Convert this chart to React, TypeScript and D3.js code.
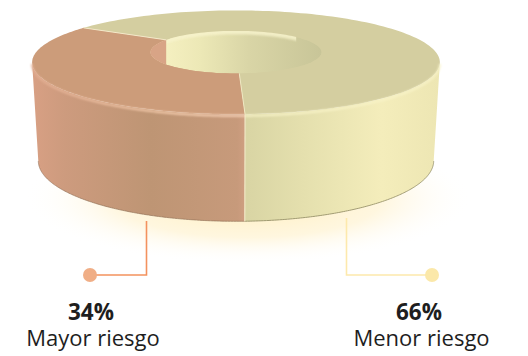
import React from "react";
import * as d3 from "d3";

const categories = ["Mayor riesgo", "Menor riesgo"];
const values = [34, 66];
const percentLabels = ["34%", "66%"];

const W = 528, H = 356;
const HUB_X = 236;
const START = (178 * Math.PI) / 180;
const K = 0.238;
const TOP = { x: HUB_X, y: 50, a: 198, b: 49 };
const BASE = { x: HUB_X, y: 146.5, a: 192, b: 57 };
const HOLE_R = 0.43;

const pie = d3.pie<number>().sort(null).startAngle(START).endAngle(START + 2 * Math.PI);
const slices = pie(values);

type Plane = { x: number; y: number; a: number; b: number };
// a disc in perspective: angle runs clockwise from the far side of the ring
const project = (pl: Plane, r: number, t: number): [number, number] => {
  const u = r * Math.sin(t);
  const v = -r * Math.cos(t);
  const w = 1 - K * v;
  return [pl.x + (pl.a * u) / w, pl.y + (pl.b * v) / w];
};
const line = d3.line<[number, number]>();
const samples = (t0: number, t1: number, n = 120) =>
  d3.range(n + 1).map((i) => t0 + ((t1 - t0) * i) / n);
const arcPts = (pl: Plane, r: number, t0: number, t1: number) =>
  samples(t0, t1).map((t) => project(pl, r, t));
const shift = (pts: [number, number][], dy: number) =>
  pts.map(([x, y]) => [x, y + dy] as [number, number]);

const sectorPath = (t0: number, t1: number) =>
  line([...arcPts(TOP, 1, t0, t1), [TOP.x, TOP.y]]) + "Z";
const wallPath = (t0: number, t1: number) =>
  line([...arcPts(TOP, 1, t0, t1), ...arcPts(BASE, 1, t0, t1).reverse()]) + "Z";

const orange = slices[0];
const yellow = slices[1];
const FRONT_END = START + 2 * Math.PI; // yellow ends at the front cut again
const LEFT_T = (256 * Math.PI) / 180; // silhouette points of the ring
const RIGHT_T = (104 * Math.PI) / 180;

const holeRing = line(arcPts(TOP, HOLE_R, 0, 2 * Math.PI)) + "Z";
const cutBack = project(TOP, HOLE_R, orange.endAngle);
const cutBackOuter = project(TOP, 1, orange.endAngle);
const cutFront = project(TOP, HOLE_R, orange.startAngle);
const cutFrontOuter = project(TOP, 1, orange.startAngle);
const frontBase = project(BASE, 1, orange.startAngle);

const leaderAnchors = [
  { x: 146.5, y0: 221, y1: 275, dot: 90, line: "#F3925E", fill: "#F0AE86" },
  { x: 346.5, y0: 218, y1: 275, dot: 432, line: "#FDE9AC", fill: "#FBE8A9" },
];
const pctX = [91, 419];
const nameX = [93, 421.5];
const pctY = 320;
const nameY = 346;
const FONT = "'Open Sans', sans-serif";

export default function App() {
  return (
    <svg
      width={W}
      height={H}
      viewBox={`0 0 ${W} ${H}`}
      style={{ position: "absolute", left: 0, top: 0, background: "#fff" }}
    >
      <defs>
        <radialGradient id="glow" cx="0.5" cy="0.5" r="0.5">
          <stop offset="0" stopColor="#FFEDB8" stopOpacity={1} />
          <stop offset="0.6" stopColor="#FFF2CE" stopOpacity={0.65} />
          <stop offset="1" stopColor="#FFFFFF" stopOpacity={0} />
        </radialGradient>
        <linearGradient id="wallO" gradientUnits="userSpaceOnUse" x1={32} x2={248} y1={0} y2={0}>
          <stop offset="0" stopColor="#D8A084" />
          <stop offset="0.15" stopColor="#CD9B7E" />
          <stop offset="0.55" stopColor="#BE9574" />
          <stop offset="0.95" stopColor="#C79A7B" />
          <stop offset="1" stopColor="#D2A083" />
        </linearGradient>
        <linearGradient id="wallY" gradientUnits="userSpaceOnUse" x1={248} x2={439} y1={0} y2={0}>
          <stop offset="0" stopColor="#D9D5A4" />
          <stop offset="0.3" stopColor="#E5E0AE" />
          <stop offset="0.7" stopColor="#F4EDBB" />
          <stop offset="1" stopColor="#EDE6B3" />
        </linearGradient>
        <linearGradient id="holeY" gradientUnits="userSpaceOnUse" x1={160} x2={322} y1={0} y2={0}>
          <stop offset="0" stopColor="#F6F1C2" />
          <stop offset="0.25" stopColor="#ECE8B6" />
          <stop offset="0.55" stopColor="#D9D5A6" />
          <stop offset="1" stopColor="#C8C598" />
        </linearGradient>
        <linearGradient id="edgeO" gradientUnits="userSpaceOnUse" x1={32} x2={248} y1={0} y2={0}>
          <stop offset="0" stopColor="#E2AE92" />
          <stop offset="0.6" stopColor="#F6CDAE" />
          <stop offset="1" stopColor="#F8D5BC" />
        </linearGradient>
        <clipPath id="holeClip">
          <path d={holeRing} />
        </clipPath>
        <clipPath id="holeBack">
          <rect x={cutBack[0]} y={0} width={130} height={TOP.y} />
        </clipPath>
        <filter id="soft" x="-10%" y="-10%" width="120%" height="120%">
          <feGaussianBlur stdDeviation="0.9" />
        </filter>
        <filter id="softer" x="-10%" y="-30%" width="120%" height="160%">
          <feGaussianBlur stdDeviation="0.5" />
        </filter>
      </defs>

      <ellipse cx={248} cy={198} rx={225} ry={66} fill="url(#glow)" />

      {leaderAnchors.map((l, i) => (
        <g key={categories[i]}>
          <path
            d={line([[l.x, l.y0], [l.x, l.y1], [l.dot, l.y1]]) ?? ""}
            fill="none"
            stroke={l.line}
            strokeWidth={1.6}
          />
          <circle cx={l.dot} cy={l.y1} r={7} fill={l.fill} />
        </g>
      ))}

      {/* outer walls, front part only */}
      <path d={wallPath(RIGHT_T, orange.startAngle)} fill="url(#wallY)" />
      <path d={wallPath(orange.startAngle, LEFT_T)} fill="url(#wallO)" />
      <path
        d={line(arcPts(BASE, 1, RIGHT_T, orange.startAngle)) ?? ""}
        fill="none"
        stroke="#7F7A52"
        strokeWidth={1}
        opacity={0.7}
        filter="url(#softer)"
      />
      <path
        d={line(arcPts(BASE, 1, orange.startAngle, LEFT_T)) ?? ""}
        fill="none"
        stroke="#8A6A50"
        strokeWidth={1}
        opacity={0.6}
        filter="url(#softer)"
      />
      <path d={line([cutFrontOuter, frontBase]) ?? ""} stroke="#F0E6C4" strokeWidth={1.2} fill="none" />

      {/* upper face */}
      <path d={sectorPath(yellow.startAngle, FRONT_END)} fill="#D4CEA0" />
      <path d={sectorPath(orange.startAngle, orange.endAngle)} fill="#CC9C7A" />

      {/* rounded edge highlights */}
      <path
        d={line(shift(arcPts(TOP, 1, orange.startAngle, LEFT_T), 1.5)) ?? ""}
        fill="none"
        stroke="url(#edgeO)"
        strokeWidth={2}
        filter="url(#soft)"
      />
      <path
        d={line(shift(arcPts(TOP, 1, RIGHT_T, orange.startAngle), 1.5)) ?? ""}
        fill="none"
        stroke="#F8F3C8"
        strokeWidth={2}
        filter="url(#soft)"
      />

      {/* hole */}
      <g clipPath="url(#holeClip)">
        <path d={holeRing} fill="url(#holeY)" />
        <g clipPath="url(#holeBack)">
          <path
            d={holeRing}
            fill="none"
            stroke="#F7F3CC"
            strokeWidth={7}
            opacity={0.85}
            filter="url(#soft)"
          />
        </g>
        <rect x={cutBack[0] - 20} y={0} width={20} height={100} fill="#D8A486" />
      </g>

      {/* cut edges on the face */}
      <path d={line([cutFront, cutFrontOuter]) ?? ""} stroke="#EFE9C2" strokeWidth={1} fill="none" />
      <path d={line([cutBack, cutBackOuter]) ?? ""} stroke="#F3E9C8" strokeWidth={1} fill="none" />

      {categories.map((c, i) => (
        <g key={c} textAnchor="middle" fill="#1E1E1E" fontFamily={FONT}>
          <text x={pctX[i]} y={pctY} fontSize={22.5} fontWeight={700}>
            {percentLabels[i]}
          </text>
          <text x={nameX[i]} y={nameY} fontSize={22}>
            {c}
          </text>
        </g>
      ))}
    </svg>
  );
}
